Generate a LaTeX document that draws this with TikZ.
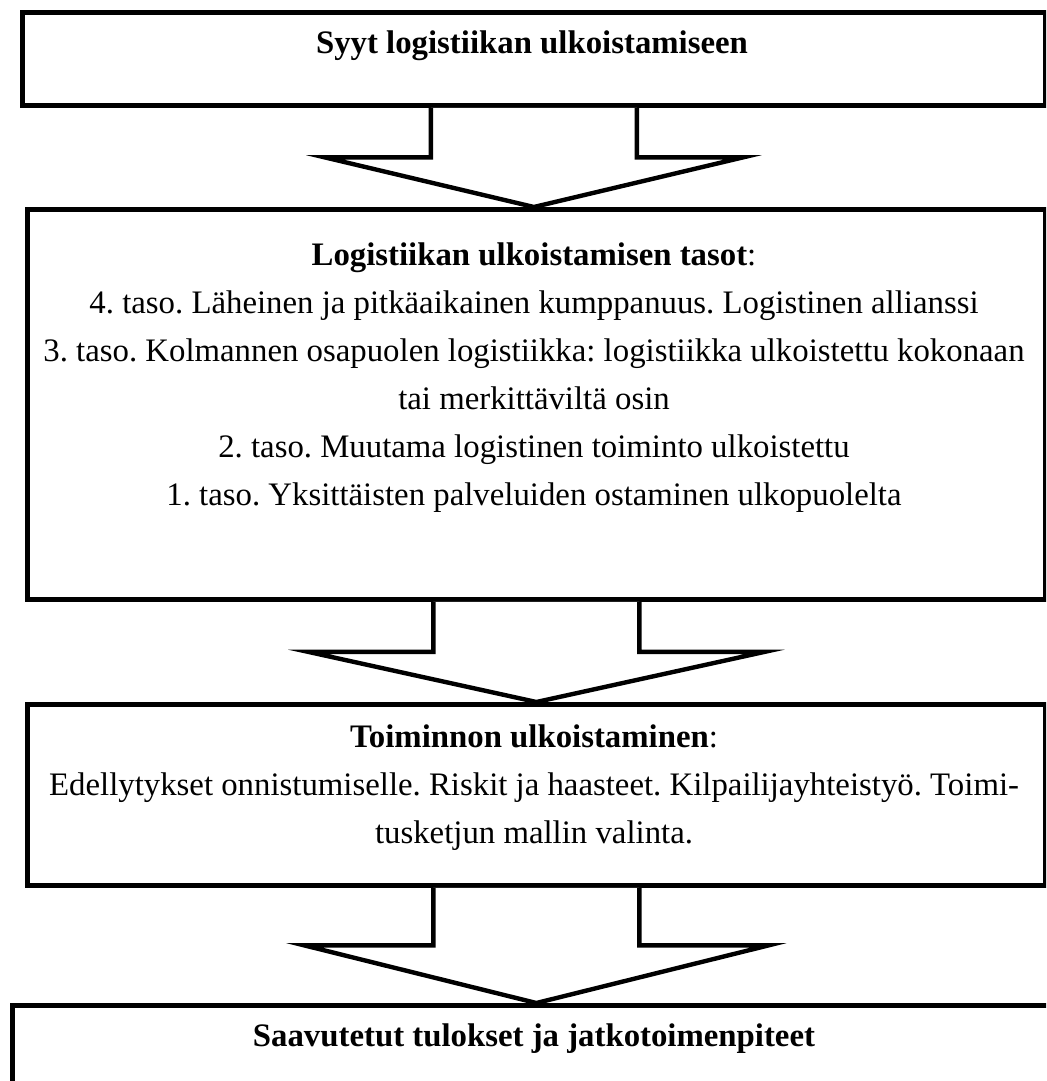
\documentclass[tikz,border=0pt]{standalone}
\usepackage{fontspec}
\setmainfont{Liberation Serif}
\usetikzlibrary{calc}
\usetikzlibrary{positioning}

\tikzset{
  box/.style={draw, line width=2.4pt, anchor=north west, inner sep=0pt},
  boxtext/.style={align=center, inner sep=0pt,
    font=\fontsize{16.4pt}{24pt}\selectfont},
  arrowline/.style={draw, fill=white, line width=2.2pt},
}

% block arrow from one box to the next, #3 = half width of the head
\newcommand{\blockarrow}[3]{%
  \path (#1.south) coordinate (s) (#2.north) coordinate (t)
    ($(s)!0.5!(t)$) coordinate (m);
  \draw[arrowline] ($(s)+(-103,0)$) -- ($(s |- m)+(-103,0)$) -- ($(s |- m)+(-#3,0)$)
    -- (s |- t) -- ($(s |- m)+(#3,0)$) -- ($(s |- m)+(103,0)$) -- ($(s)+(103,0)$);
}

\begin{document}
\frenchspacing
\begin{tikzpicture}[x=0.5pt, y=-0.5pt]

  \clip (0,0) rectangle (1046,1081);

  \node[box, minimum width=511.5pt, minimum height=46.5pt] (syyt) at (20,10) {};
  \node[box, minimum width=509pt, minimum height=195pt] (tasot) at (25,207) {};
  \node[box, minimum width=509pt, minimum height=90.5pt] (toiminto) at (25,702) {};
  \node[box, minimum width=530pt, minimum height=48.5pt] (tulokset) at (10,1003) {};

  \blockarrow{syyt}{tasot}{209}
  \blockarrow{tasot}{toiminto}{228}
  \blockarrow{toiminto}{tulokset}{232}

  \node[boxtext] (syytText) at (532,46) {\textbf{Syyt logistiikan ulkoistamiseen}};
  \node[boxtext] (tasotText) at (534,378) {\textbf{Logistiikan ulkoistamisen tasot}:\\
    4. taso. Läheinen ja pitkäaikainen kumppanuus. Logistinen allianssi\\
    3. taso. Kolmannen osapuolen logistiikka: logistiikka ulkoistettu kokonaan\\
    tai merkittäviltä osin\\
    2. taso. Muutama logistinen toiminto ulkoistettu\\
    1. taso. Yksittäisten palveluiden ostaminen ulkopuolelta};
  \node[boxtext] (toimintoText) at (534,788) {\textbf{Toiminnon ulkoistaminen}:\\
    Edellytykset onnistumiselle. Riskit ja haasteet. Kilpailijayhteistyö. Toimi-\\
    tusketjun mallin valinta.};
  \node[boxtext] (tuloksetText) at (534,1039) {\textbf{Saavutetut tulokset ja jatkotoimenpiteet}};

\end{tikzpicture}
\end{document}
